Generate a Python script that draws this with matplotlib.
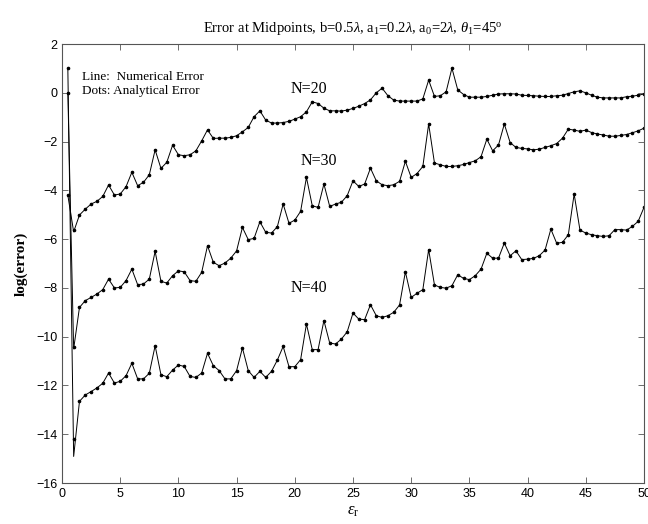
import numpy as np
import matplotlib
matplotlib.use("Agg")
import matplotlib.pyplot as plt

plt.rcParams['mathtext.fontset'] = 'custom'
plt.rcParams['mathtext.rm'] = 'Liberation Serif'
plt.rcParams['mathtext.it'] = 'Liberation Serif:italic'

# epsilon_r sampling grid (0.5 .. 50, step 0.5)
eps_r = np.arange(0.5, 50.001, 0.5)

# Analytical error (dots), log10 scale
err_n20 = [-4.2, -5.63, -5.01, -4.77, -4.56, -4.45, -4.25, -3.78, -4.19, -4.15,
           -3.85, -3.26, -3.81, -3.67, -3.36, -2.34, -3.10, -2.85, -2.15, -2.54,
           -2.58, -2.54, -2.38, -1.97, -1.52, -1.87, -1.86, -1.86, -1.83, -1.76,
           -1.60, -1.42, -0.98, -0.74, -1.12, -1.24, -1.24, -1.22, -1.17, -1.08,
           -0.98, -0.78, -0.37, -0.44, -0.63, -0.74, -0.74, -0.75, -0.71, -0.64,
           -0.55, -0.44, -0.29, -0.00, 0.19, -0.12, -0.30, -0.34, -0.34, -0.34,
           -0.34, -0.25, 0.52, -0.15, -0.12, 0.04, 1.01, 0.12, -0.07, -0.18,
           -0.18, -0.18, -0.15, -0.10, -0.05, -0.04, -0.04, -0.05, -0.10, -0.11,
           -0.12, -0.14, -0.15, -0.15, -0.12, -0.10, -0.03, 0.04, 0.08, 0.00,
           -0.10, -0.18, -0.21, -0.21, -0.21, -0.21, -0.16, -0.14, -0.10, -0.05]

err_n30 = [0.0, -10.41, -8.80, -8.52, -8.39, -8.25, -8.07, -7.64, -8.00, -7.98,
           -7.70, -7.23, -7.87, -7.84, -7.64, -6.50, -7.73, -7.80, -7.50, -7.30,
           -7.34, -7.70, -7.73, -7.36, -6.27, -6.95, -7.09, -6.98, -6.78, -6.48,
           -5.52, -6.02, -5.97, -5.29, -5.72, -5.75, -5.49, -4.56, -5.35, -5.22,
           -4.86, -3.47, -4.63, -4.70, -3.74, -4.66, -4.56, -4.49, -4.22, -3.61,
           -3.84, -3.74, -3.09, -3.61, -3.77, -3.81, -3.77, -3.63, -2.81, -3.47,
           -3.31, -3.02, -1.28, -2.88, -2.95, -3.02, -3.02, -2.99, -2.94, -2.86,
           -2.79, -2.62, -1.90, -2.38, -2.14, -1.28, -2.04, -2.24, -2.28, -2.30,
           -2.34, -2.31, -2.24, -2.17, -2.08, -1.86, -1.49, -1.53, -1.58, -1.53,
           -1.63, -1.69, -1.73, -1.78, -1.78, -1.75, -1.71, -1.64, -1.56, -1.45]

err_n40 = [1.0, -14.19, -12.65, -12.39, -12.25, -12.10, -11.91, -11.49, -11.90, -11.83,
           -11.60, -11.09, -11.73, -11.73, -11.50, -10.37, -11.56, -11.64, -11.37, -11.16,
           -11.22, -11.63, -11.67, -11.49, -10.68, -11.19, -11.39, -11.73, -11.73, -11.39,
           -10.46, -11.39, -11.67, -11.42, -11.67, -11.42, -10.96, -10.40, -11.23, -11.23,
           -10.94, -9.48, -10.53, -10.53, -9.34, -10.26, -10.30, -10.10, -9.80, -9.03,
           -9.28, -9.30, -8.69, -9.14, -9.21, -9.14, -9.00, -8.70, -7.34, -8.39,
           -8.22, -8.07, -6.43, -7.88, -7.98, -8.01, -7.91, -7.46, -7.61, -7.66,
           -7.50, -7.23, -6.58, -6.78, -6.78, -6.16, -6.68, -6.48, -6.84, -6.82,
           -6.79, -6.68, -6.45, -5.59, -6.17, -6.13, -5.82, -4.15, -5.63, -5.75,
           -5.82, -5.86, -5.89, -5.86, -5.61, -5.61, -5.63, -5.48, -5.27, -4.70]

# Numerical error (line): same samples, except the first points
num_head_n20 = [-4.2, -5.70]
num_head_n30 = [0.0, -10.50]
num_head_n40 = [1.0, -14.91]

labels = ["N=20", "N=30", "N=40"]
label_pos = [(19.6, 0.16), (20.5, -2.79), (19.6, -7.99)]

fig = plt.figure(figsize=(6.48, 5.24), dpi=100)
ax = fig.add_axes([0.0957, 0.0782, 0.8981, 0.8378])

serif = 'Liberation Serif'
sans = 'Liberation Sans'

for ana, head in [(err_n20, num_head_n20), (err_n30, num_head_n30), (err_n40, num_head_n40)]:
    num = list(head) + list(ana[len(head):])
    ax.plot(eps_r, num, color='black', lw=0.7)
    ax.plot(eps_r, ana, linestyle='none', marker='o', ms=1.6, color='black')

for lab, (tx, ty) in zip(labels, label_pos):
    ax.text(tx, ty, lab, family=serif, fontsize=11.5, va='center', ha='left')

ax.text(1.75, 0.66, "Line:  Numerical Error", family=serif, fontsize=9.5, va='center')
ax.text(1.75, 0.08, "Dots: Analytical Error", family=serif, fontsize=9.5, va='center')

ax.set_xlim(0, 50)
ax.set_ylim(-16, 2)
ax.set_xticks(np.arange(0, 51, 5))
ax.set_yticks(np.arange(-16, 3, 2))
ax.tick_params(direction='in', top=True, right=True, length=4, width=0.6,
               labelsize=9, color='#555555')
for lbl in ax.get_xticklabels() + ax.get_yticklabels():
    lbl.set_family(sans)
for s in ax.spines.values():
    s.set_linewidth(0.8)
    s.set_color('#555555')

ax.set_title(r"Error at Midpoints, b=0.5$\lambda$, a$_{\mathrm{1}}$=0.2$\lambda$, "
             r"a$_{\mathrm{0}}$=2$\lambda$, $\theta_{\mathrm{1}}$=45$^{\mathrm{o}}$",
             family=serif, fontsize=10.5, pad=9)
ax.set_ylabel("log(error)", family=serif, fontsize=11, fontweight='bold', labelpad=6)
ax.set_xlabel(r"$\varepsilon_{\mathrm{r}}$", family=serif, fontsize=12, labelpad=2)

fig.savefig("out.png", dpi=100)
